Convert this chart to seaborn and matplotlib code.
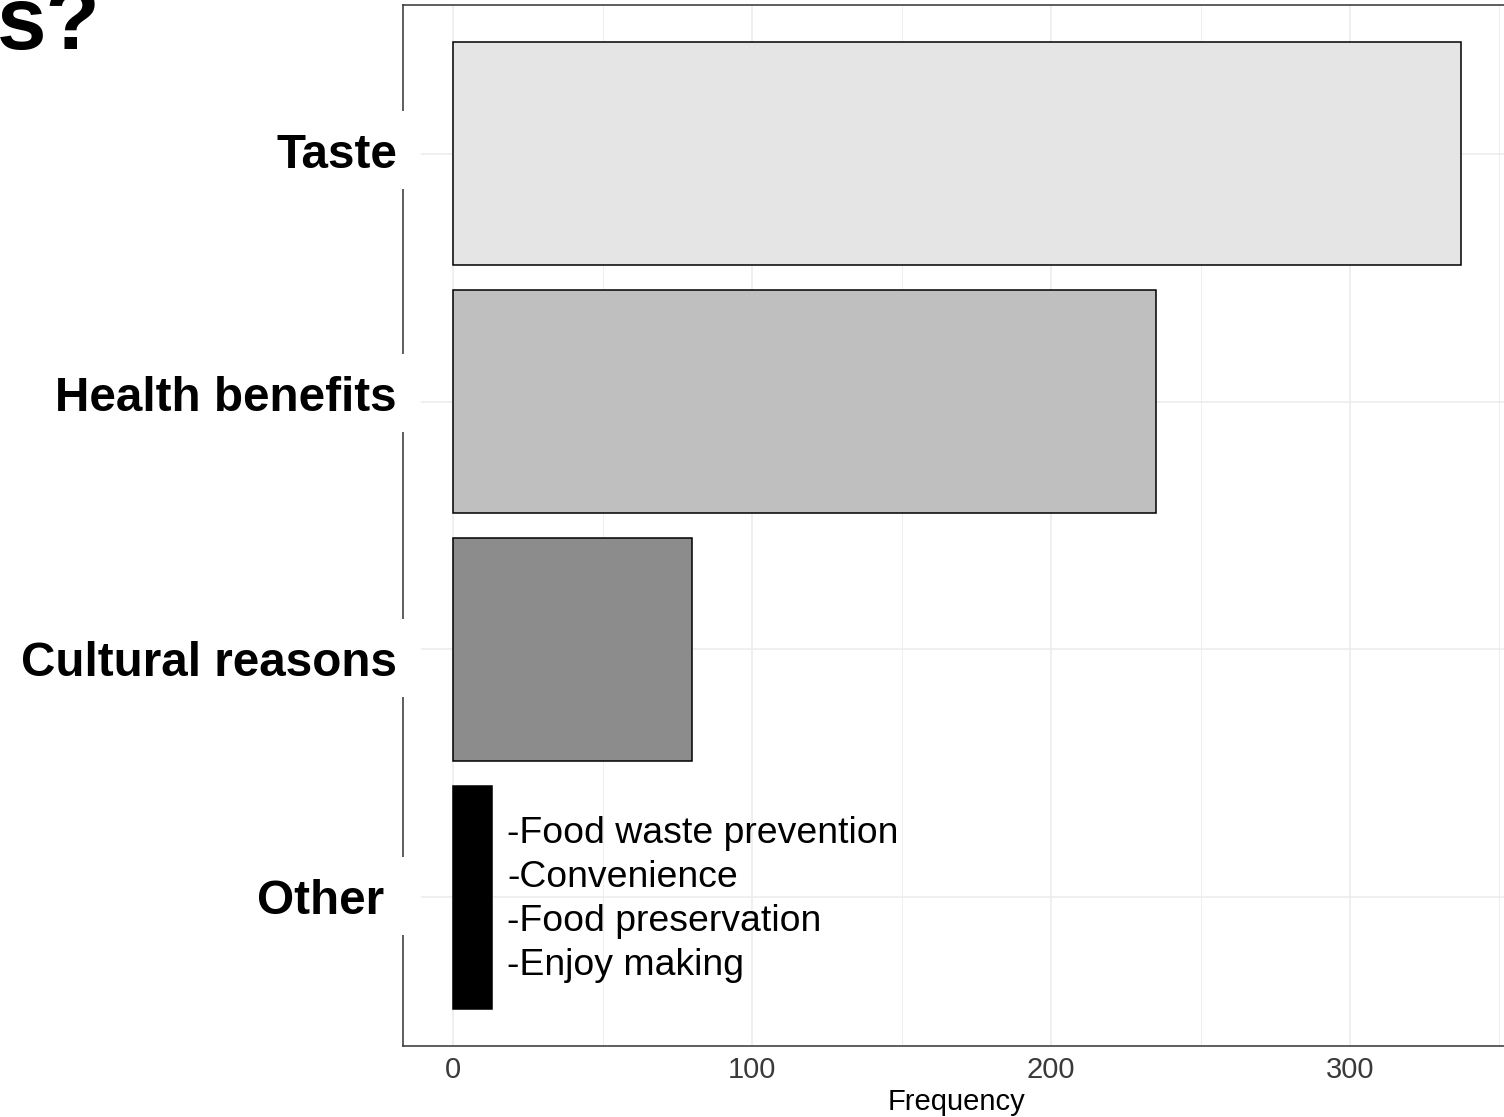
import matplotlib
matplotlib.use("Agg")
import matplotlib.pyplot as plt
import matplotlib.transforms as mtransforms
from matplotlib.patches import Rectangle
from matplotlib.ticker import MultipleLocator
import seaborn as sns

# Survey answers: why people make it themselves
categories = ["Taste", "Health benefits", "Cultural reasons", "Other "]
frequency = [337, 235, 80, 13]
bar_colors = ["#E5E5E5", "#BFBFBF", "#8C8C8C", "#000000"]
other_notes = ["-Food waste prevention", "-Convenience",
               "-Food preservation", "-Enjoy making"]
x_ticks = [0, 100, 200, 300]

sns.set_style("white")
plt.rcParams["font.family"] = ["Liberation Sans", "DejaVu Sans"]

W, H, DPI = 1504, 1117, 100
fig = plt.figure(figsize=(W / DPI, H / DPI), dpi=DPI)
ax_box = [403 / W, 71 / H, 1108 / W, 1041 / H]
ax = fig.add_axes(ax_box)

sns.barplot(x=frequency, y=categories, hue=categories, palette=bar_colors,
            legend=False, orient="h", width=0.9, saturation=1,
            edgecolor="black", linewidth=1.1, ax=ax)

xmax = max(frequency)
ax.set_xlim(-0.05 * xmax, 1.05 * xmax)
ax.set_ylim(len(categories) - 0.4, -0.6)

# ggplot-like panel: light grid, dark border
ax.set_axisbelow(True)
ax.xaxis.set_major_locator(MultipleLocator(100))
ax.xaxis.set_minor_locator(MultipleLocator(50))
ax.set_xticks(x_ticks)
ax.grid(which="major", color="#EBEBEB", linewidth=1.1)
ax.grid(which="minor", axis="x", color="#EBEBEB", linewidth=0.6)
for sp in ax.spines.values():
    sp.set_visible(True)
    sp.set_color("#333333")
    sp.set_linewidth(1.1)

ax.tick_params(axis="x", which="major", length=4, width=1.1, color="#333333",
               labelsize=21, labelcolor="#3A3A3A", pad=3)
ax.tick_params(axis="x", which="minor", length=0)
ax.tick_params(axis="y", length=0, labelleft=False)
ax.set_ylabel("")
ax.set_xlabel("Frequency", fontsize=21, color="black", labelpad=3)

# Category labels on white plates over the left border
unit_px = (ax_box[3] * H) / (len(categories) + 0.2)
baseline_px = [14, 9, 27, 17]
label_x = (397 - 403) / 1108
plate_right = (421 - 403) / 1108
ytrans = mtransforms.blended_transform_factory(ax.transAxes, ax.transData)
for i, (lab, off) in enumerate(zip(categories, baseline_px)):
    base = i + off / unit_px
    ax.add_patch(Rectangle((-0.4, base - 57 / unit_px), 0.4 + plate_right,
                           78 / unit_px, facecolor="white", edgecolor="none",
                           transform=ytrans, clip_on=False, zorder=3))
    ax.text(label_x, base, lab, ha="right", va="baseline", fontsize=34.3,
            fontweight="bold", color="black", transform=ytrans,
            clip_on=False, zorder=4)

# Breakdown of the "Other" answers next to its bar
other_idx = len(categories) - 1
for k, note in enumerate(other_notes):
    ax.text(frequency[other_idx] + 5,
            other_idx + (-54.3 + 44.1 * k) / unit_px, note,
            ha="left", va="baseline", fontsize=26.9, color="black", zorder=4)

# Tail of the title running in from the left
fig.text(-3 / W, 1 - 49 / H, "s?", fontsize=64, fontweight="bold",
         ha="left", va="baseline", color="black")

fig.savefig("out.png", dpi=DPI)
